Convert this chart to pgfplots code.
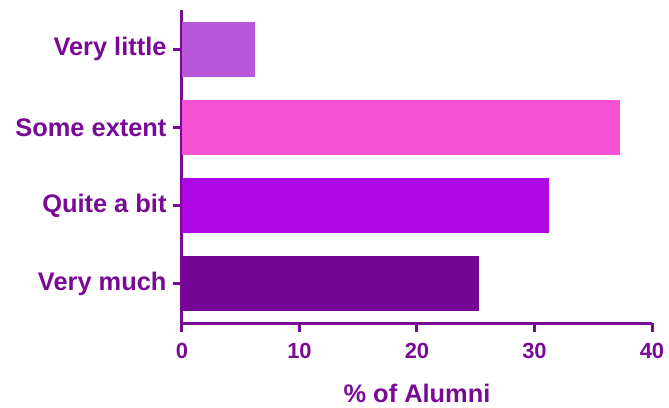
\documentclass[border=0pt]{standalone}
\usepackage{pgfplots}
\pgfplotsset{compat=1.18}
\usepackage{fontspec}
\setmainfont{Liberation Sans}
\definecolor{txt}{HTML}{780A96}
\definecolor{c1}{HTML}{B955D9}
\definecolor{c2}{HTML}{F752D6}
\definecolor{c3}{HTML}{AD08E3}
\definecolor{c4}{HTML}{740595}
\begin{document}
\begin{tikzpicture}
\begin{axis}[
  at={(0,0)}, anchor=south west,
  scale only axis,
  width=470bp, height=313bp,
  xmin=0, xmax=40, ymin=-0.5, ymax=3.5,
  xbar, bar width=55bp, bar shift=0pt,
  axis x line*=bottom, axis y line*=left,
  axis line style={txt, line width=3bp},
  every tick/.style={txt, line width=3bp},
  major tick length=9bp,
  tick align=outside,
  xtick={0,10,20,30,40},
  ytick={0,1,2,3},
  yticklabels={Very much, Quite a bit, Some extent, Very little},
  /pgf/number format/assume math mode=true,
  ticklabel style={text=txt, font=\fontsize{22}{26}\selectfont\bfseries},
  xticklabel style={yshift=-8bp},
  yticklabel style={font=\fontsize{25.5}{30}\selectfont\bfseries, xshift=-3bp},
  xlabel={\% of Alumni},
  xlabel style={text=txt, font=\fontsize{25.5}{30}\selectfont\bfseries, yshift=-18bp},
]
\addplot[fill=c4, draw=none] coordinates {(25.3,0)};
\addplot[fill=c3, draw=none] coordinates {(31.2,1)};
\addplot[fill=c2, draw=none] coordinates {(37.3,2)};
\addplot[fill=c1, draw=none] coordinates {(6.2,3)};
\end{axis}
\pgfresetboundingbox
\path (-182bp,-85bp) rectangle (487bp,323bp);
\end{tikzpicture}
\end{document}
